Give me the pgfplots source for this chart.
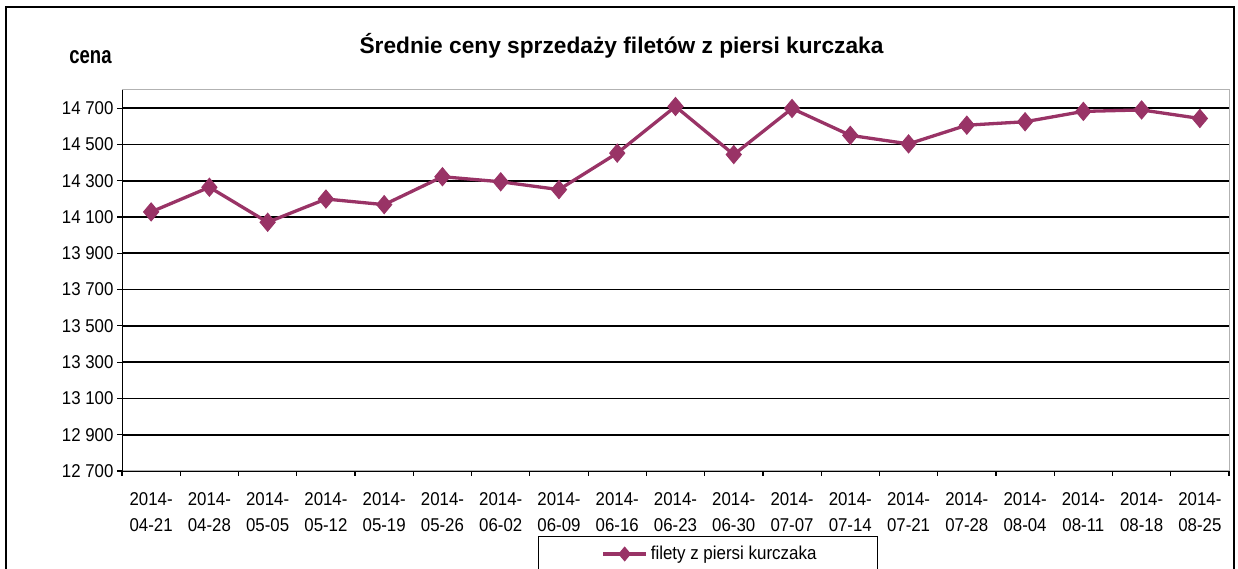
\documentclass[border=0pt]{standalone}
\usepackage{pgfplots}
\pgfplotsset{compat=1.18}
\usepackage{fontspec}
\setmainfont{Liberation Sans}
\definecolor{plum}{HTML}{993366}
\newcommand\st[1]{\scalebox{1}[1.1]{#1}}
\begin{document}
\begin{tikzpicture}[x=1bp,y=1bp]
\useasboundingbox (0,0) rectangle (1238,569);
\draw[line width=2.5bp] (6,-20) -- (6,562) -- (1234,562) -- (1234,-20);
\node[font=\bfseries\fontsize{22.8}{26}\selectfont, anchor=base, inner sep=0pt] at (621.5,515) {Średnie ceny sprzedaży filetów z piersi kurczaka};
\node[font=\bfseries\fontsize{18.6}{21}\selectfont, anchor=base, inner sep=0pt] at (90.5,505) {\scalebox{1}[1.3]{cena}};
\begin{axis}[at={(122bp,98bp)}, anchor=south west, scale only axis,
  width=1107bp, height=381bp,
  xmin=-0.5, xmax=18.5, ymin=12700, ymax=14800,
  scaled y ticks=false,
  ytick={12700,12900,...,14700},
  yticklabels={\st{12 700},\st{12 900},\st{13 100},\st{13 300},\st{13 500},\st{13 700},\st{13 900},\st{14 100},\st{14 300},\st{14 500},\st{14 700}},
  ymajorgrids, major grid style={black, line width=1.6bp},
  xtick={-0.5,0.5,...,18.5}, xticklabels={},
  extra x ticks={0,1,...,18},
  extra x tick labels={{\st{2014-}\\\st{04-21}},{\st{2014-}\\\st{04-28}},{\st{2014-}\\\st{05-05}},{\st{2014-}\\\st{05-12}},{\st{2014-}\\\st{05-19}},{\st{2014-}\\\st{05-26}},{\st{2014-}\\\st{06-02}},{\st{2014-}\\\st{06-09}},{\st{2014-}\\\st{06-16}},{\st{2014-}\\\st{06-23}},{\st{2014-}\\\st{06-30}},{\st{2014-}\\\st{07-07}},{\st{2014-}\\\st{07-14}},{\st{2014-}\\\st{07-21}},{\st{2014-}\\\st{07-28}},{\st{2014-}\\\st{08-04}},{\st{2014-}\\\st{08-11}},{\st{2014-}\\\st{08-18}},{\st{2014-}\\\st{08-25}}},
  extra x tick style={major tick length=0pt, grid=none, tick label style={align=center, yshift=-18bp}},
  xtick pos=left, ytick pos=left,
  tick align=outside, major tick length=5bp,
  tick style={black, line width=1.2bp},
  axis line style={draw=gray!60, line width=1bp},
  tick label style={font=\fontsize{16.9}{26.6}\selectfont, text=black},
  legend style={at={(0.3758,-0.1706)}, anchor=north west, draw=black, line width=1bp,
    inner xsep=0pt, inner ysep=10bp, nodes={inner sep=0pt},
    font=\fontsize{17}{19}\selectfont},
  legend image code/.code={%
    \path (-63bp,0) (46bp,0);
    \draw[#1] (0bp,0) -- (43bp,0);
    \draw[#1, mark size=6.8bp] plot coordinates {(21.5bp,0)};},
]
\addplot[plum, line width=3.3bp, mark=diamond*, mark size=9bp, mark options={solid, fill=plum, line width=1bp, xscale=1.12}]
coordinates {
(0,14128) (1,14264) (2,14071) (3,14199) (4,14168) (5,14322) (6,14294) (7,14251)
(8,14452) (9,14709) (10,14444) (11,14698) (12,14550) (13,14503) (14,14606)
(15,14625) (16,14682) (17,14690) (18,14643)};
\addlegendentry{\makebox[227bp][l]{\st{filety z piersi kurczaka}}}
\draw[black, line width=1.4bp] (rel axis cs:0,0) -- (rel axis cs:0,1);
\end{axis}
\end{tikzpicture}
\end{document}
